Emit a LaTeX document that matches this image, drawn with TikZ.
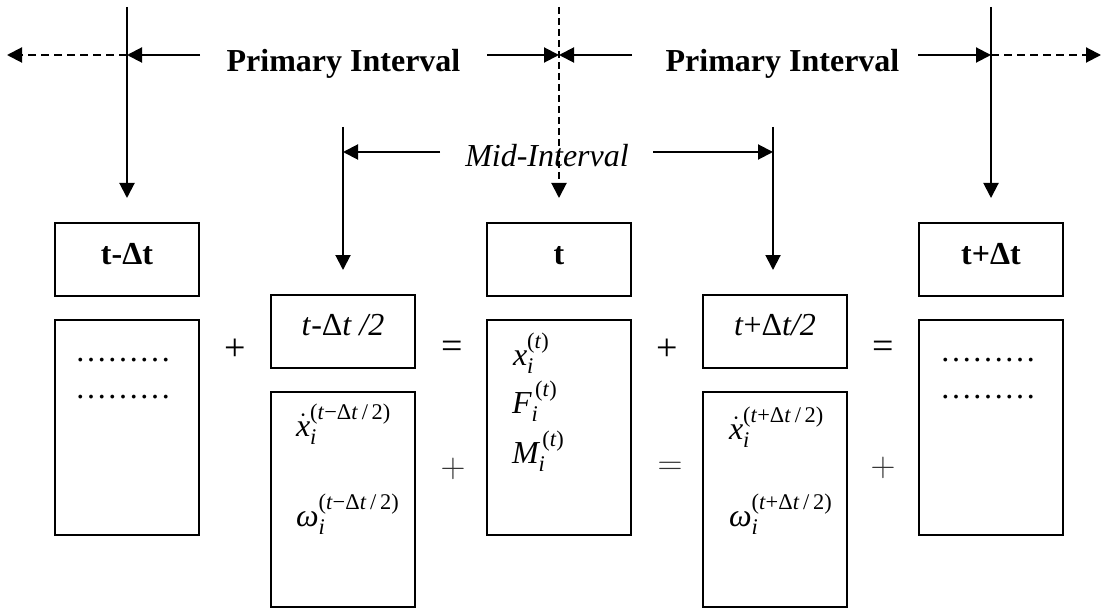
\documentclass[tikz,border=0pt]{standalone}
\usepackage{amsmath}
\usepackage{fontspec}
\setmainfont{Liberation Serif}
\usetikzlibrary{arrows.meta}
\begin{document}
\begin{tikzpicture}[x=0.5pt,y=-0.5pt,line width=1pt,
  font=\fontsize{16pt}{19pt}\selectfont,
  frame/.style={draw,line width=1pt,inner sep=0pt,minimum width=72pt},
  hdr/.style={frame,minimum height=36.5pt},
  lbl/.style={inner sep=0pt,anchor=base},
  sym/.style={inner sep=0pt,anchor=base west},
  op/.style={inner sep=0pt,anchor=center,font=\fontsize{19pt}{22pt}\selectfont},
  mop/.style={inner sep=0pt,anchor=center,text=black!80},
  tip/.style={-{Triangle[length=7.5pt,width=7.5pt]}},
  dsh/.style={dash pattern=on 4pt off 2.5pt},
  vdsh/.style={dash pattern=on 3.5pt off 2pt}]
\useasboundingbox (0,0) rectangle (1107,609);

% ---- coordinates of interval lines
\coordinate (L1top) at (127,7);   \coordinate (L1bot) at (127,198);
\coordinate (L2top) at (559,7);   \coordinate (L2bot) at (559,198);
\coordinate (L3top) at (991,7);   \coordinate (L3bot) at (991,198);
\coordinate (L1m) at (127,55); \coordinate (L2m) at (559,55); \coordinate (L3m) at (991,55);
\coordinate (Lfar) at (7,55); \coordinate (Rfar) at (1101,55);
\coordinate (A1) at (200,55); \coordinate (A2) at (487,55);
\coordinate (A3) at (632,55); \coordinate (A4) at (918,55);
\coordinate (M1top) at (343,127); \coordinate (M1bot) at (343,270);
\coordinate (M2top) at (773,127); \coordinate (M2bot) at (773,270);
\coordinate (M1m) at (343,152); \coordinate (M2m) at (773,152);
\coordinate (B1) at (440,152); \coordinate (B2) at (653,152);

% ---- primary interval arrows
\draw[tip] (L1top) -- (L1bot);
\draw[tip,vdsh] (L2top) -- (L2bot);
\draw[tip] (L3top) -- (L3bot);
\draw[tip,dsh] (L1m) -- (Lfar);
\draw[tip] (A1) -- (L1m);
\draw[tip] (A2) -- (L2m);
\draw[tip] (A3) -- (L2m);
\draw[tip] (A4) -- (L3m);
\draw[tip,dsh] (L3m) -- (Rfar);
\node[lbl] (P1) at (343.5,72) {\textbf{Primary Interval}};
\node[lbl] (P2) at (782.5,72) {\textbf{Primary Interval}};

% ---- mid interval arrows
\draw[tip] (M1top) -- (M1bot);
\draw[tip] (M2top) -- (M2bot);
\draw[tip] (B1) -- (M1m);
\draw[tip] (B2) -- (M2m);
\node[lbl] (MI) at (547,167) {\textit{Mid-Interval}};

% ---- header boxes
\node[hdr] (H1) at (127,259.5) {};
\node[lbl] (H1t) at (127,264) {\textbf{t-Δt}};
\node[hdr] (H3) at (559,259.5) {};
\node[lbl] (H3t) at (559,264) {\textbf{t}};
\node[hdr] (H5) at (991,259.5) {};
\node[lbl] (H5t) at (991,264) {\textbf{t+Δt}};
\node[hdr] (H2) at (343,331.5) {};
\node[lbl] (H2t) at (343,335) {\textit{t}-Δ\textit{t /2}};
\node[hdr] (H4) at (775,331.5) {};
\node[lbl] (H4t) at (775,335) {\textit{t}+Δ\textit{t/2}};

% ---- content boxes
\node[frame,minimum height=107.5pt] (C1) at (127,427.5) {};
\node[frame,minimum height=107.5pt] (C3) at (559,427) {};
\node[frame,minimum height=107.5pt] (C5) at (991,427) {};
\node[frame,minimum height=107.5pt] (C2) at (343,499.5) {};
\node[frame,minimum height=107.5pt] (C4) at (775,499.5) {};

\node[sym] (d1a) at (74,361) {………};
\node[sym] (d1b) at (74,398) {………};
\node[sym] (d5a) at (939,361) {………};
\node[sym] (d5b) at (939,398) {………};

\node[sym] (c3a) at (512,365) {$\textit{x}_{\textit{i}}^{\text{(\textit{t})}}$};
\node[sym] (c3b) at (511,413) {$\textit{F}_{\textit{i}}^{\,\text{(\textit{t})}}$};
\node[sym] (c3c) at (511,463) {$\textit{M}_{\textit{i}}^{\,\text{(\textit{t})}}$};

\node[sym] (c2a) at (295,436) {$\dot{\textit{x}}_{\textit{i}}^{\text{(\textit{t}−Δ\textit{t}\,/\,2)}}$};
\node[sym] (c2b) at (295,526) {$\textit{ω}_{\textit{i}}^{\text{(\textit{t}−Δ\textit{t}\,/\,2)}}$};
\node[sym] (c4a) at (728,439) {$\dot{\textit{x}}_{\textit{i}}^{\text{(\textit{t}+Δ\textit{t}\,/\,2)}}$};
\node[sym] (c4b) at (728,526) {$\textit{ω}_{\textit{i}}^{\text{(\textit{t}+Δ\textit{t}\,/\,2)}}$};

% ---- operators
\node[op] (o1) at (235,350) {+};
\node[op] (o2) at (452,350) {=};
\node[op] (o3) at (667,350) {+};
\node[op] (o4) at (883,350) {=};
\node[mop] (o5) at (453,469) {$+$};
\node[mop] (o6) at (670,468) {$=$};
\node[mop] (o7) at (883,468) {$+$};
\end{tikzpicture}
\end{document}
